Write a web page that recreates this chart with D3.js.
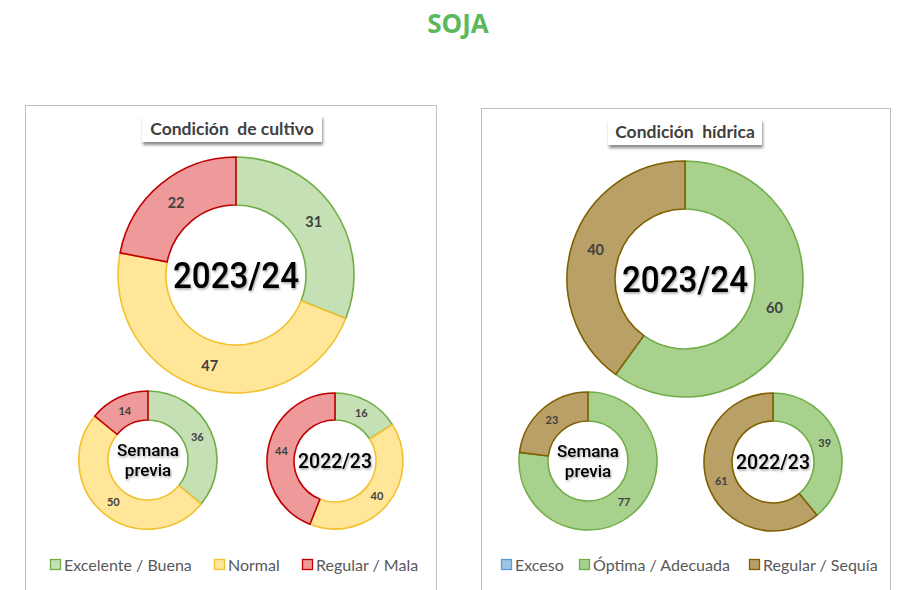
<!DOCTYPE html>
<html><head><meta charset="utf-8">
<script src="https://cdn.jsdelivr.net/npm/d3@7"></script>
<style>
html,body{margin:0;padding:0;background:#fff;}
svg{display:block;}
</style></head>
<body>
<script>
// ---- data ----
const cultivoCategories = ["Excelente / Buena", "Normal", "Regular / Mala"];
const cultivo2023_24 = [31, 47, 22];
const cultivoSemanaPrevia = [36, 50, 14];
const cultivo2022_23 = [16, 40, 44];

const hidricaCategories = ["Exceso", "Óptima / Adecuada", "Regular / Sequía"];
const hidrica2023_24 = [0, 60, 40];
const hidricaSemanaPrevia = [0, 77, 23];
const hidrica2022_23 = [0, 39, 61];

const cultivoFills = ["#c5e0b4", "#ffe699", "#ee9a9a"];
const cultivoStrokes = ["#70ad47", "#f2c12e", "#c00000"];
const hidricaFills = ["#9dc3e6", "#a9d18e", "#b9a067"];
const hidricaStrokes = ["#5b9bd5", "#70ad47", "#7f6000"];

const W = 906, H = 590;
const svg = d3.select("body").append("svg").attr("width", W).attr("height", H);
const defs = svg.append("defs");
const sh = defs.append("filter").attr("id","boxshadow").attr("x","-20%").attr("y","-30%").attr("width","140%").attr("height","180%");
sh.append("feDropShadow").attr("dx",1).attr("dy",3).attr("stdDeviation",1.5).attr("flood-color","#000").attr("flood-opacity",0.45);
const tsh = defs.append("filter").attr("id","textshadow").attr("x","-20%").attr("y","-30%").attr("width","140%").attr("height","160%");
tsh.append("feDropShadow").attr("dx",1).attr("dy",1.5).attr("stdDeviation",1.2).attr("flood-color","#000").attr("flood-opacity",0.35);

const FONT = "Lato, 'Open Sans', sans-serif";

svg.append("text").attr("x", 458).attr("y", 33).attr("text-anchor","middle")
  .attr("font-family","'Open Sans', Arial, sans-serif").attr("font-weight",700).attr("font-size",26)
  .attr("fill","#5cb85c").text("SOJA");

function panel(x, y, w, h, title, titleBox, cats, fills, strokes, donuts, legendItems) {
  const g = svg.append("g");
  g.append("rect").attr("x", x+0.5).attr("y", y+0.5).attr("width", w).attr("height", h)
    .attr("fill","#fff").attr("stroke","#bfbfbf").attr("stroke-width",1);
  // title box
  g.append("rect").attr("x", titleBox.x).attr("y", titleBox.y).attr("width", titleBox.w).attr("height", titleBox.h)
    .attr("fill","#fff").attr("filter","url(#boxshadow)");
  g.append("text").attr("x", titleBox.x + titleBox.w/2).attr("y", titleBox.y + titleBox.h/2 + 6)
    .attr("text-anchor","middle").attr("font-family",FONT).attr("font-weight",700).attr("font-size",17.5)
    .attr("fill","#404040").style("white-space","pre").text(title);

  donuts.forEach(d => {
    const pie = d3.pie().sort(null).value(v => v)(d.values);
    const arc = d3.arc().innerRadius(d.r).outerRadius(d.R);
    const dg = g.append("g").attr("transform", `translate(${d.cx},${d.cy})`);
    dg.selectAll("path").data(pie.filter(p => p.value > 0)).join("path")
      .attr("d", arc).attr("fill", p => fills[p.index]).attr("stroke", p => strokes[p.index])
      .attr("stroke-width", 1.6).attr("stroke-linejoin","round");
    dg.selectAll("text.val").data(pie.filter(p => p.value > 0)).join("text").attr("class","val")
      .attr("transform", p => `translate(${arc.centroid(p)})`).attr("text-anchor","middle").attr("dy","0.36em")
      .attr("font-family",FONT).attr("font-weight",700).attr("font-size", d.labelSize)
      .attr("fill","#404040").text(p => p.value);
    const ct = dg.append("text").attr("text-anchor","middle").attr("font-family","Roboto, sans-serif")
      .attr("font-weight",d.centerWeight).attr("font-size", d.centerSize).attr("fill","#000").attr("filter","url(#textshadow)");
    const lines = d.center;
    lines.forEach((ln, i) => {
      const ts = ct.append("tspan").attr("x", 0).attr("y", (i - (lines.length-1)/2) * d.centerSize*1.15)
        .attr("dy","0.35em").text(ln);
      if (d.centerLen) ts.attr("textLength", d.centerLen).attr("lengthAdjust","spacingAndGlyphs");
    });
  });

  legendItems.forEach((it, i) => {
    g.append("rect").attr("x", it.x+0.5).attr("y", 559.5).attr("width", 10).attr("height", 10)
      .attr("fill", fills[i]).attr("stroke", strokes[i]).attr("stroke-width",1.3);
    g.append("text").attr("x", it.x + 14).attr("y", 570.5).attr("font-family",FONT).attr("font-size",16)
      .attr("fill","#595959").text(cats[i]);
  });
}

panel(25, 105, 411, 500, "Condición  de cultivo", {x:142, y:115, w:180, h:27},
  cultivoCategories, cultivoFills, cultivoStrokes,
  [
    {cx:236, cy:275, R:118, r:70, values:cultivo2023_24, center:["2023/24"], centerSize:37, centerWeight:500, centerLen:126, labelSize:14.5},
    {cx:148, cy:460, R:69, r:40, values:cultivoSemanaPrevia, center:["Semana","previa"], centerSize:17, centerWeight:500, labelSize:11},
    {cx:335, cy:461, R:68, r:41, values:cultivo2022_23, center:["2022/23"], centerSize:20, centerWeight:500, centerLen:74, labelSize:11}
  ],
  [{x:50},{x:214},{x:302}]);

panel(481, 108, 409, 500, "Condición  hídrica", {x:608, y:119, w:154, h:26},
  hidricaCategories, hidricaFills, hidricaStrokes,
  [
    {cx:685, cy:279, R:118, r:70, values:hidrica2023_24, center:["2023/24"], centerSize:37, centerWeight:500, centerLen:126, labelSize:14.5},
    {cx:588, cy:461, R:69, r:40, values:hidricaSemanaPrevia, center:["Semana","previa"], centerSize:17, centerWeight:500, labelSize:11},
    {cx:773, cy:462, R:69, r:41, values:hidrica2022_23, center:["2022/23"], centerSize:20, centerWeight:500, centerLen:74, labelSize:11}
  ],
  [{x:501},{x:579},{x:749}]);
</script>
</body></html>
